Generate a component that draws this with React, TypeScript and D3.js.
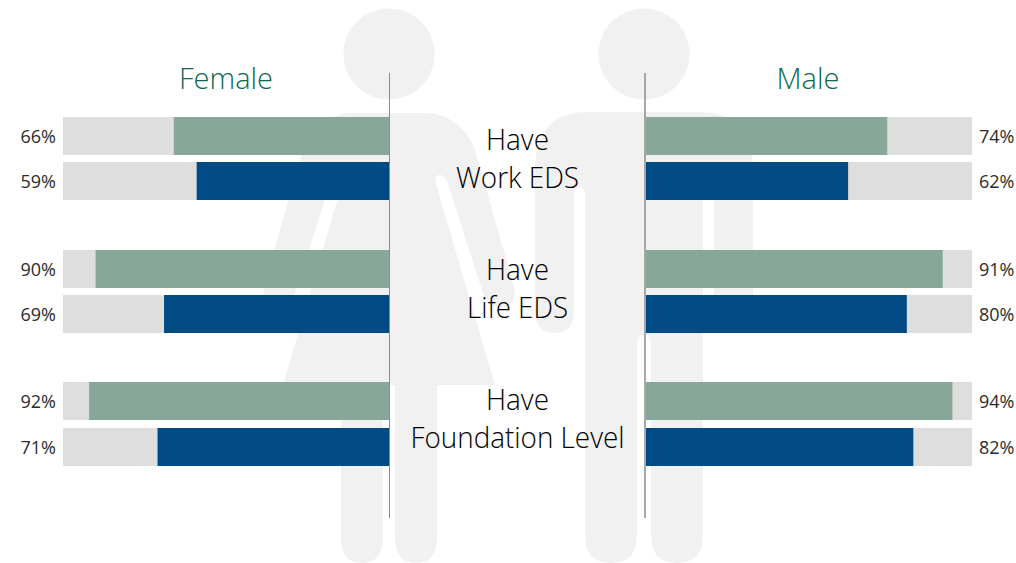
import * as d3 from "d3";
import React from "react";

// values
const groups = ["Work EDS", "Life EDS", "Foundation Level"];
const groupWidths = [123, 101, 214];
const measures = ["first", "second"];
const femaleFirst = [66, 90, 92];
const femaleSecond = [59, 69, 71];
const maleFirst = [74, 91, 94];
const maleSecond = [62, 80, 82];

const GREEN = "#87a798";
const BLUE = "#004b84";
const TRACK = "#dedede";
const FIGURE = "#f1f1f1";
const FONT = "'Open Sans', sans-serif";

// silhouettes behind the chart, only the right half, mirrored with a transform
const femaleHalf =
  "M389 113 L425 113 C450 113 468 130 475 150 L513 283 Q519 307 502 307 Q490 307 484 296 L447 181 Q444 174 439 175 Q434 177 436 184 L495 385 L437 385 L437 537 Q437 563 416 563 Q395 563 395 537 L395 385 L389 385 Z";
const maleHalf =
  "M644 112 L699 112 Q753 112 753 170 L753 311 Q753 333 733 333 Q714 333 714 311 L714 195 Q714 187 708.500 187 Q703 187 703 195 L703 535 Q703 563 677 563 Q651 563 651 535 L651 344 Q651 335 644 335 Z";

const groupScale = d3.scaleBand<string>().domain(groups).range([117, 465.34]).paddingInner(0.373);
const rowScale = d3.scaleBand<string>().domain(measures).range([0, 83.4]).paddingInner(0.163);
const femaleX = d3.scaleLinear().domain([0, 100]).range([389, 63]);
const maleX = d3.scaleLinear().domain([0, 100]).range([646, 972]);

const rowY = (g: string, m: string) => Math.round((groupScale(g) as number) + (rowScale(m) as number));

const Side = ({ x, first, second, left }: { x: d3.ScaleLinear<number, number>; first: number[]; second: number[]; left: boolean }) => {
  const [x0, x1] = x.range();
  const edge = left ? x1 : x0;
  return (
    <g>
      {groups.map((g, i) =>
        measures.map((m) => {
          const v = m === "first" ? first[i] : second[i];
          const y = rowY(g, m);
          const h = Math.round(rowScale.bandwidth());
          const px = x(v);
          return (
            <g key={g + m}>
              <rect x={edge} y={y} width={Math.abs(x1 - x0)} height={h} fill={TRACK} />
              <rect x={Math.min(x0, px)} y={y} width={Math.abs(px - x0)} height={h} fill={m === "first" ? GREEN : BLUE} />
              <text
                x={left ? 56 : 979}
                y={y + 26}
                textAnchor={left ? "end" : "start"}
                fontFamily={FONT}
                fontSize={18}
                fill="#2b2b2b"
              >
                {v}%
              </text>
            </g>
          );
        })
      )}
    </g>
  );
};

const App = () => (
  <svg width={1016} height={563} style={{ position: "absolute", left: 0, top: 0 }}>
    <rect width={1016} height={563} fill="#fff" />
    <g fill={FIGURE}>
      <circle cx={389} cy={54} r={45.5} />
      <path d={femaleHalf} />
      <path d={femaleHalf} transform="translate(778,0) scale(-1,1)" />
      <circle cx={644} cy={54} r={45.5} />
      <path d={maleHalf} />
      <path d={maleHalf} transform="translate(1288,0) scale(-1,1)" />
    </g>

    <Side x={femaleX} first={femaleFirst} second={femaleSecond} left />
    <Side x={maleX} first={maleFirst} second={maleSecond} left={false} />

    <line x1={389.5} x2={389.5} y1={73} y2={518} stroke="#8c8c8c" strokeWidth={1} />
    <line x1={645} x2={645} y1={73} y2={518} stroke="#8c8c8c" strokeWidth={1.5} />

    <text x={226} y={88.5} textAnchor="middle" fontFamily={FONT} fontSize={29} fontWeight={300} fill="#0b6a4e">Female</text>
    <text x={808} y={88.5} textAnchor="middle" fontFamily={FONT} fontSize={29} fontWeight={300} fill="#0b6a4e">Male</text>

    {groups.map((label, i) => {
      // the captions step by 130px, a little less than the bars do
      const y = 150 + i * 130;
      return (
        <g key={label} textAnchor="middle" fontFamily={FONT} fontSize={30} fontWeight={300} fill="#000">
          <text x={517.5} y={y} textLength={63} lengthAdjust="spacingAndGlyphs">Have</text>
          <text x={517.5} y={y + 38} textLength={groupWidths[i]} lengthAdjust="spacingAndGlyphs">{label}</text>
        </g>
      );
    })}
  </svg>
);

export default App;
